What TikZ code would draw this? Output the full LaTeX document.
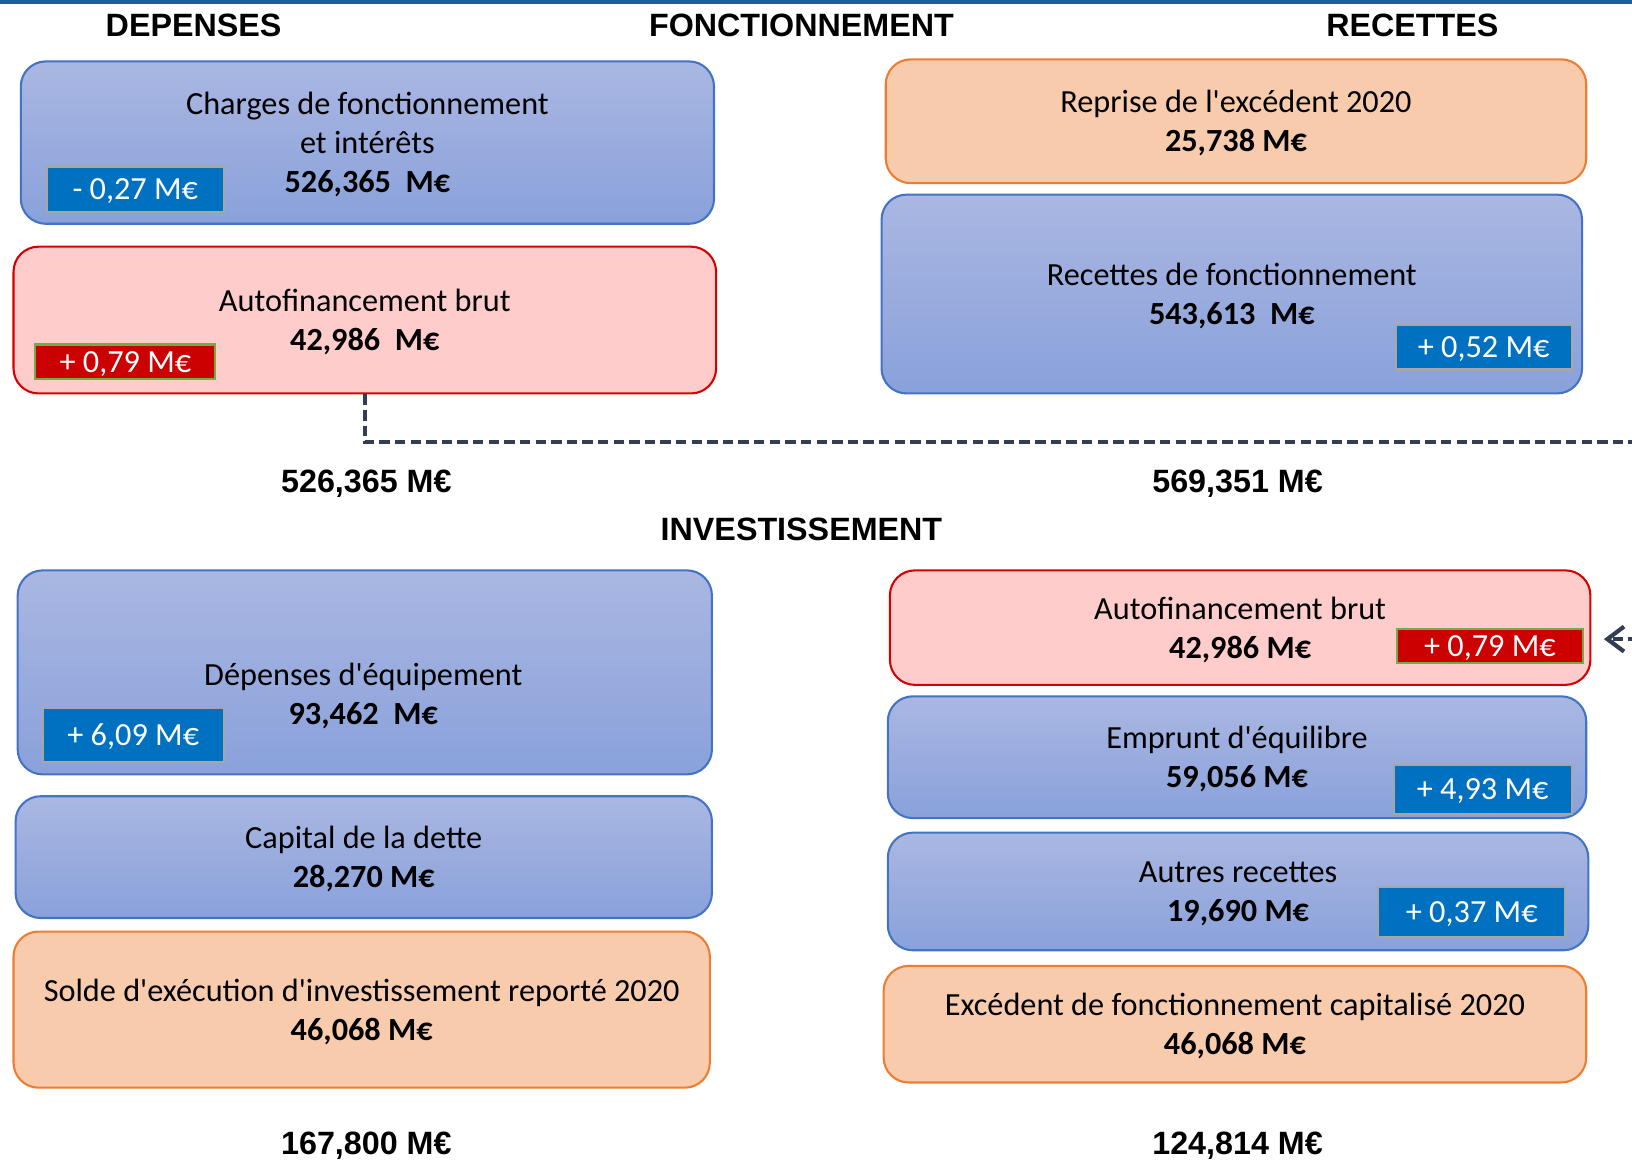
\documentclass[tikz,border=0pt]{standalone}
\usepackage{fontspec}
\setmainfont{Carlito}
\newfontfamily\headfont{Liberation Sans}
\usetikzlibrary{arrows.meta}
\definecolor{bluetop}{RGB}{170,183,226}
\definecolor{bluebot}{RGB}{137,161,218}
\definecolor{blueline}{RGB}{68,114,196}
\definecolor{pinkfill}{RGB}{255,204,204}
\definecolor{redline}{RGB}{214,0,0}
\definecolor{orangefill}{RGB}{248,203,173}
\definecolor{orangeline}{RGB}{237,125,49}
\definecolor{tagblue}{RGB}{0,112,192}
\definecolor{tagred}{RGB}{204,0,0}
\definecolor{taggray}{RGB}{166,166,166}
\definecolor{taggreen}{RGB}{112,173,71}
\definecolor{linkgray}{RGB}{51,63,80}
\definecolor{topblue}{RGB}{26,94,154}

\begin{document}
\begin{tikzpicture}[x=0.5pt,y=-0.5pt,
  box/.style={draw, rounded corners=12pt, line width=1pt, align=center, inner sep=0pt,
    text depth=-1.4pt, font=\fontsize{15.5}{18.75}\selectfont},
  bluebox/.style={box, draw=blueline, top color=bluetop, bottom color=bluebot},
  pinkbox/.style={box, draw=redline, fill=pinkfill},
  orangebox/.style={box, draw=orangeline, fill=orangefill},
  boxtext/.style={align=center, inner sep=0pt, font=\fontsize{15.5}{18.75}\selectfont},
  tag/.style={draw, line width=1pt, inner sep=0pt, text=white, text depth=0pt,
    font=\fontsize{15.5}{18}\selectfont},
  tagblue/.style={tag, fill=tagblue, draw=taggray},
  tagred/.style={tag, fill=tagred, draw=taggreen},
  head/.style={inner sep=0pt, text depth=0pt, font=\headfont\bfseries\fontsize{15.5}{18}\selectfont},
  link/.style={draw=linkgray, line width=2pt, dash pattern=on 5pt off 2.5pt}]
\useasboundingbox (0,0) rectangle (1568,1115);
\draw[topblue, line width=2pt] (0,1.5) -- (1568,1.5);

% titres
\node[head] (hdep) at (186,24) {DEPENSES};
\node[head] (hfonc) at (770,24) {FONCTIONNEMENT};
\node[head] (hrec) at (1357,24) {RECETTES};
\node[head] (hinv) at (770,508) {INVESTISSEMENT};

% fonctionnement
\node[bluebox, minimum width=333pt, minimum height=78pt] (chg) at (353,137)
  {Charges de fonctionnement\\et intérêts\\\textbf{526,365~~M€}};
\node[tagblue, minimum width=85pt, minimum height=22pt] (tchg) at (130,182) {- 0,27 M€};
\node[pinkbox, minimum width=337.5pt, minimum height=70.5pt] (afbF) at (350.5,307.5)
  {Autofinancement brut\\\textbf{42,986~~M€}};
\node[tagred, minimum width=86.5pt, minimum height=16.5pt] (tafbF) at (120.5,347.5) {+ 0,79 M€};

\node[orangebox, minimum width=336.5pt, minimum height=59.5pt] (rep) at (1187.5,116.5)
  {Reprise de l\textquotesingle excédent 2020\\\textbf{25,738 M€}};
\node[bluebox, minimum width=336.5pt, minimum height=95.5pt] (rec) at (1183.5,282.5)
  {Recettes de fonctionnement\\\textbf{543,613~~M€}};
\node[tagblue, minimum width=84.5pt, minimum height=21.5pt] (trec) at (1425.5,333.5) {+ 0,52 M€};

\node[head] (totdepF) at (352,462) {526,365 M€};
\node[head] (totrecF) at (1189,462) {569,351 M€};

% investissement
\node[bluebox, minimum width=333.5pt, minimum height=98pt] (dep) at (350.5,646) {};
\node[boxtext] (deptxt) at (349,669) {Dépenses d\textquotesingle équipement\\\textbf{93,462~~M€}};
\node[tagblue, minimum width=87pt, minimum height=26pt] (tdep) at (128,706) {+ 6,09 M€};
\node[bluebox, minimum width=334.5pt, minimum height=58.5pt] (cap) at (349.5,823.5)
  {Capital de la dette\\\textbf{28,270 M€}};
\node[orangebox, minimum width=334.5pt, minimum height=75pt] (solde) at (347.5,970)
  {Solde d\textquotesingle exécution d\textquotesingle investissement reporté 2020\\\textbf{46,068 M€}};

\node[pinkbox, minimum width=336.5pt, minimum height=55pt] (afbI) at (1191.5,603)
  {Autofinancement brut\\\textbf{42,986 M€}};
\node[tagred, minimum width=89.5pt, minimum height=16.5pt] (tafbI) at (1431.5,620.5) {+ 0,79 M€};
\node[bluebox, minimum width=335.5pt, minimum height=58.5pt] (emp) at (1188.5,727.5)
  {Emprunt d\textquotesingle équilibre\\\textbf{59,056 M€}};
\node[tagblue, minimum width=85.5pt, minimum height=23.5pt] (temp) at (1424.5,758.5) {+ 4,93 M€};
\node[bluebox, minimum width=336.5pt, minimum height=56.5pt] (aut) at (1189.5,856.5)
  {Autres recettes\\\textbf{19,690 M€}};
\node[tagblue, minimum width=90pt, minimum height=24pt] (taut) at (1414,876) {+ 0,37 M€};
\node[orangebox, minimum width=337.5pt, minimum height=56pt] (exc) at (1186.5,984)
  {Excédent de fonctionnement capitalisé 2020\\\textbf{46,068 M€}};

\node[head] (totdepI) at (352,1098) {167,800 M€};
\node[head] (totrecI) at (1189,1098) {124,814 M€};

% report de l'autofinancement
\coordinate (offA) at (1610,425);
\coordinate (offB) at (1610,614);
\draw[link, -{Straight Barb[length=8pt,width=12pt]}, shorten >=6pt]
  (afbF.south) |- (offA) -- (offB) -- ([yshift=-5.5pt]afbI.east);
\end{tikzpicture}
\end{document}
